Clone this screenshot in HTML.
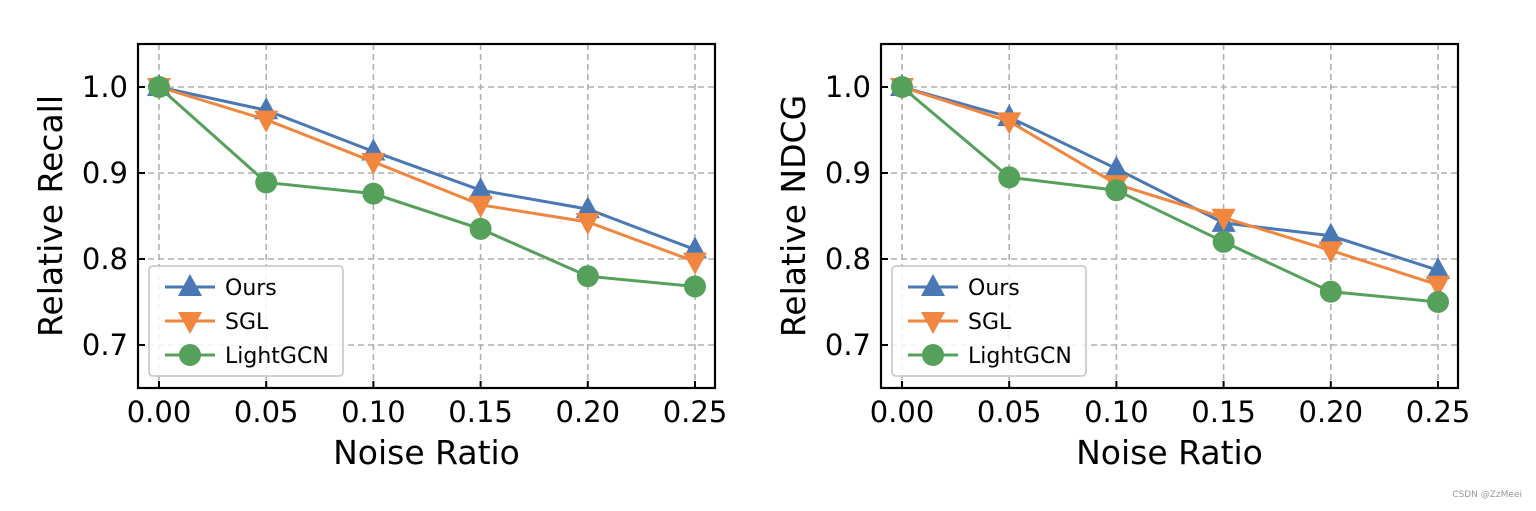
<!DOCTYPE html>
<html><head><meta charset="utf-8"><style>
body{margin:0;background:#fff;width:1536px;height:506px;overflow:hidden}
svg text{font-family:"DejaVu Sans","Liberation Sans",sans-serif;fill:#000}
</style></head><body>
<svg id="s" width="1536" height="506"></svg>
<script>
const xTicks=[0,0.05,0.1,0.15,0.2,0.25];
const xTickLabels=["0.00","0.05","0.10","0.15","0.20","0.25"];
const yTicks=[0.7,0.8,0.9,1.0];
const yTickLabels=["0.7","0.8","0.9","1.0"];
const seriesNames=["Ours","SGL","LightGCN"];
const recallOurs=[1.0,0.973,0.925,0.880,0.858,0.811];
const recallSGL=[1.0,0.962,0.913,0.863,0.843,0.797];
const recallLightGCN=[1.0,0.889,0.876,0.835,0.780,0.768];
const ndcgOurs=[1.0,0.965,0.905,0.842,0.827,0.787];
const ndcgSGL=[1.0,0.960,0.887,0.848,0.810,0.770];
const ndcgLightGCN=[1.0,0.895,0.880,0.820,0.762,0.750];
const colors=["#4a78b4","#f0863f","#55a05a"];
const NS="http://www.w3.org/2000/svg";
const svg=document.getElementById('s');
function mk(tag,attrs,parent){const e=document.createElementNS(NS,tag);for(const k in attrs)e.setAttribute(k,attrs[k]);(parent||svg).appendChild(e);return e;}
function marker(g,kind,x,y,c){
  let e;
  if(kind===0)e=mk('polygon',{points:`${x},${y-13} ${x-12},${y+9} ${x+12},${y+9}`,fill:c},g);
  else if(kind===1)e=mk('polygon',{points:`${x},${y+13} ${x-12},${y-9} ${x+12},${y-9}`,fill:c},g);
  else e=mk('circle',{cx:x,cy:y,r:11,fill:c},g);
  return e;
}
function chart(ox,name,ylabel,data){
  const L=ox,R=ox+577,T=44,B=388;
  const x0=ox+21,x1=ox+557;
  const xs=v=>x0+(v-0)/0.25*(x1-x0);
  const ys=v=>87+(1.0-v)*860;
  const g=mk('g',{});
  
  
  xTicks.forEach((t,i)=>{
    const l=mk('line',{x1:xs(t),x2:xs(t),y1:T,y2:B,stroke:'#b0b0b0','stroke-dasharray':'6,4','stroke-width':1.6},g);
    
    mk('line',{x1:xs(t),x2:xs(t),y1:B,y2:B-7,stroke:'#000','stroke-width':2},g);
    const tx=mk('text',{x:xs(t),y:B+34,'text-anchor':'middle','font-size':29},g);tx.textContent=xTickLabels[i];
    
  });
  yTicks.forEach((t,i)=>{
    const l=mk('line',{x1:L,x2:R,y1:ys(t),y2:ys(t),stroke:'#b0b0b0','stroke-dasharray':'6,4','stroke-width':1.6},g);
    
    mk('line',{x1:L,x2:L+7,y1:ys(t),y2:ys(t),stroke:'#000','stroke-width':2},g);
    const tx=mk('text',{x:L-10,y:ys(t)+10,'text-anchor':'end','font-size':29},g);tx.textContent=yTickLabels[i];
    
  });
  data.forEach((d,si)=>{
    const pts=d.map((v,i)=>xs(xTicks[i])+','+ys(v)).join(' ');
    const pl=mk('polyline',{points:pts,fill:'none',stroke:colors[si],'stroke-width':3},g);
    
    d.forEach((v,i)=>{const m=marker(g,si,xs(xTicks[i]),ys(v),colors[si]);
      });
  });
  const fr=mk('rect',{x:L,y:T,width:R-L,height:B-T,fill:'none',stroke:'#000','stroke-width':2.2},g);
  
  const lg=mk('g',{},g);
  
  mk('rect',{x:L+11,y:266,width:194,height:110,rx:4,fill:'#fff','fill-opacity':0.85,stroke:'#ccc','stroke-width':1.8},lg);
  seriesNames.forEach((n,si)=>{
    const yy=287+si*34;
    const le=mk('g',{},lg);
    
    mk('line',{x1:L+27,x2:L+77,y1:yy,y2:yy,stroke:colors[si],'stroke-width':3},le);
    marker(le,si,L+52,yy,colors[si]);
    const t=mk('text',{x:L+87,y:yy+8,'font-size':22},le);t.textContent=n;
  });
  const xl=mk('text',{x:(L+R)/2,y:464,'text-anchor':'middle','font-size':33},g);xl.textContent='Noise Ratio';
  
  const yl=mk('text',{x:0,y:0,'text-anchor':'middle','font-size':33,transform:`translate(${L-76},${(T+B)/2}) rotate(-90)`},g);yl.textContent=ylabel;
  
}
chart(138,'recall-chart','Relative Recall',[recallOurs,recallSGL,recallLightGCN]);
chart(881,'ndcg-chart','Relative NDCG',[ndcgOurs,ndcgSGL,ndcgLightGCN]);
const wm=mk('text',{x:1522,y:497,'text-anchor':'end','font-size':9});
wm.setAttribute('style','fill:#999');wm.textContent='CSDN @ZzMeei';

</script>
</body></html>
